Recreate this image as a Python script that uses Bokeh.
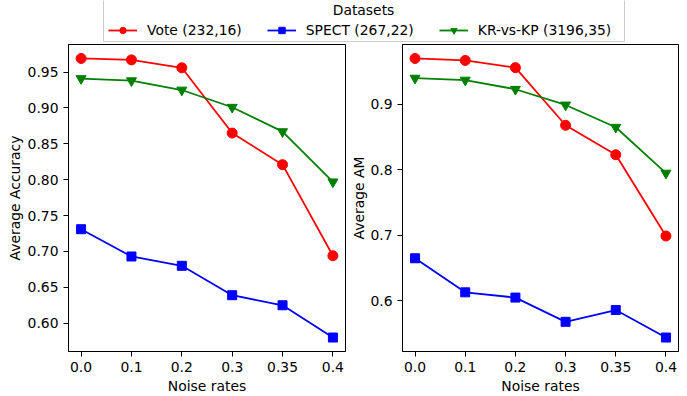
from bokeh.plotting import figure
from bokeh.layouts import column, row
from bokeh.models import (FixedTicker, Legend, LegendItem, Label, BoxAnnotation,
                          Range1d, NumeralTickFormatter, ColumnDataSource)
from bokeh.embed import file_html
from bokeh.resources import INLINE

# ---------------- data ----------------
noise_rates = ["0.0", "0.1", "0.2", "0.3", "0.35", "0.4"]
series_names = ["Vote (232,16)", "SPECT (267,22)", "KR-vs-KP (3196,35)"]

vote_acc = [0.969, 0.967, 0.956, 0.865, 0.821, 0.694]
spect_acc = [0.731, 0.693, 0.680, 0.639, 0.625, 0.580]
krkp_acc = [0.941, 0.938, 0.925, 0.901, 0.867, 0.797]

vote_am = [0.970, 0.967, 0.956, 0.868, 0.823, 0.699]
spect_am = [0.665, 0.613, 0.605, 0.568, 0.586, 0.544]
krkp_am = [0.940, 0.937, 0.923, 0.899, 0.865, 0.795]

acc_ticks = [0.60, 0.65, 0.70, 0.75, 0.80, 0.85, 0.90, 0.95]
am_ticks = [0.6, 0.7, 0.8, 0.9]

legend_title = "Datasets"
x_label = "Noise rates"
y_label_left = "Average Accuracy"
y_label_right = "Average AM"

# ---------------- styles ----------------
FONT = "DejaVu Sans"
FS = "13.9px"
colors = ["#ff0000", "#0000ff", "#008000"]
markers = ["circle", "square", "inverted_triangle"]
msizes = [10, 9, 10]
LW = 1.8

x_pos = list(range(len(noise_rates)))


def padded(vals, frac=0.05):
    lo, hi = min(vals), max(vals)
    span = hi - lo
    return lo - frac * span, hi + frac * span


def make_panel(series, ticks, fmt, ylabel, width, border_left, border_right, label_standoff):
    allv = [v for s in series for v in s]
    ylo, yhi = padded(allv)
    n = len(x_pos)
    p = figure(width=width, height=354, output_backend="svg", toolbar_location=None,
               x_range=Range1d(-0.05 * (n - 1), (n - 1) * 1.05), y_range=Range1d(ylo, yhi),
               min_border_left=border_left, min_border_right=border_right,
               min_border_top=2, min_border_bottom=43)
    p.xgrid.visible = False
    p.ygrid.visible = False
    p.outline_line_color = "black"
    p.outline_line_alpha = 1
    p.outline_line_width = 1
    p.background_fill_color = "white"
    p.border_fill_color = "white"
    for vals, c, m, ms in zip(series, colors, markers, msizes):
        src = ColumnDataSource(dict(x=x_pos, y=vals))
        p.line("x", "y", source=src, line_color=c, line_width=LW)
        p.scatter("x", "y", source=src, marker=m, size=ms, fill_color=c, line_color=c)
    for ax in (p.xaxis[0], p.yaxis[0]):
        ax.axis_line_color = "black"
        ax.major_tick_line_color = "black"
        ax.major_tick_out = 5
        ax.major_tick_in = 0
        ax.minor_tick_out = 0
        ax.minor_tick_in = 0
        ax.major_label_text_font = FONT
        ax.major_label_text_font_size = FS
        ax.major_label_text_color = "black"
        ax.axis_label_text_font = FONT
        ax.axis_label_text_font_size = FS
        ax.axis_label_text_font_style = "normal"
        ax.axis_label_text_color = "black"
    xa = p.xaxis[0]
    xa.ticker = FixedTicker(ticks=x_pos)
    xa.major_label_overrides = {i: lab for i, lab in zip(x_pos, noise_rates)}
    xa.major_label_standoff = 5
    xa.axis_label = x_label
    xa.axis_label_standoff = 3
    ya = p.yaxis[0]
    ya.ticker = FixedTicker(ticks=ticks)
    ya.formatter = NumeralTickFormatter(format=fmt)
    ya.major_label_standoff = 5
    ya.axis_label = ylabel
    ya.axis_label_standoff = label_standoff
    return p


p1 = make_panel([vote_acc, spect_acc, krkp_acc], acc_ticks, "0.00", y_label_left, 346, 68, 1, 2)
p2 = make_panel([vote_am, spect_am, krkp_am], am_ticks, "0.0", y_label_right, 341, 56, 9, 0)

# ---------------- legend strip ----------------
lf = figure(width=687, height=42, output_backend="svg", toolbar_location=None,
            x_range=Range1d(0, 687), y_range=Range1d(0, 42),
            x_axis_type=None, y_axis_type=None, min_border=0)
lf.xgrid.visible = False
lf.ygrid.visible = False
lf.outline_line_color = None
lf.background_fill_color = "white"
lf.border_fill_color = "white"
box = BoxAnnotation(left=103, right=624, bottom=1, top=46, fill_color="white", fill_alpha=1,
                    line_color="#cccccc", line_width=1, line_alpha=1)
lf.add_layout(box)
lf.add_layout(Label(x=363, y=33, text=legend_title, text_align="center", text_baseline="middle",
                    text_font=FONT, text_font_size=FS, text_color="black"))
items = []
for name, c, m, ms in zip(series_names, colors, markers, msizes):
    src = ColumnDataSource(dict(x=[-100], y=[-100]))
    r1 = lf.line("x", "y", source=src, line_color=c, line_width=LW)
    r2 = lf.scatter("x", "y", source=src, marker=m, size=ms, fill_color=c, line_color=c)
    items.append(LegendItem(label=name, renderers=[r1, r2]))
leg = Legend(items=items, orientation="horizontal", location=(108, 4),
             glyph_width=29, glyph_height=16, label_height=16, label_standoff=10, spacing=25,
             padding=0, margin=0, label_text_font=FONT, label_text_font_size=FS,
             label_text_color="black", border_line_alpha=0, background_fill_alpha=0)
lf.add_layout(leg, "center")

layout = column(lf, row(p1, p2))
open("out.html", "w").write(file_html(layout, INLINE))
